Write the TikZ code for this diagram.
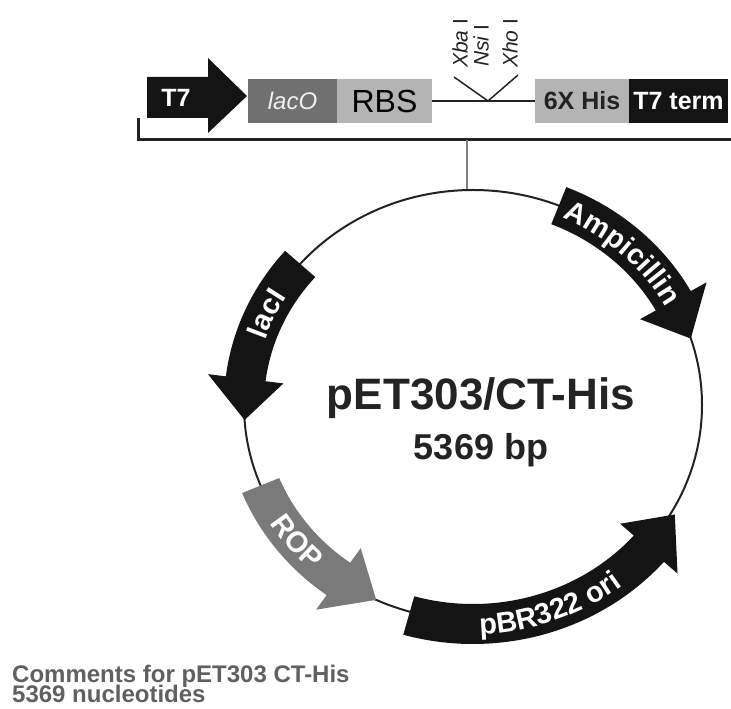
\documentclass[tikz,border=0pt]{standalone}
\usepackage{fontspec}
\setmainfont{Liberation Sans}
\usetikzlibrary{decorations.text}
\definecolor{genedark}{RGB}{20,20,20}
\definecolor{lacgray}{RGB}{112,112,112}
\definecolor{rbsgray}{RGB}{180,180,180}
\definecolor{ropgray}{RGB}{122,122,122}
\definecolor{textdark}{RGB}{35,35,35}
\newcommand{\mapcx}{473}
\newcommand{\mapcy}{304}
\newcommand{\mapra}{229}
\newcommand{\maprb}{215}
\newcommand{\genefont}{\bfseries\fontsize{29}{29}\selectfont}
\newcommand{\genearrow}[6]{%
  \fill[#6]
    ({\mapcx+(\mapra+(#5))*cos(#1)},{\mapcy+(\maprb+(#5))*sin(#1)})
    arc[start angle=#1, end angle=#2, x radius={\mapra+(#5)}, y radius={\maprb+(#5)}]
    -- ({\mapcx+(\mapra+(#5)+18)*cos(#2)},{\mapcy+(\maprb+(#5)+18)*sin(#2)})
    -- ({\mapcx+(\mapra+(#4+#5)/2)*cos(#3)},{\mapcy+(\maprb+(#4+#5)/2)*sin(#3)})
    -- ({\mapcx+(\mapra+(#4)-18)*cos(#2)},{\mapcy+(\maprb+(#4)-18)*sin(#2)})
    -- ({\mapcx+(\mapra+(#4))*cos(#2)},{\mapcy+(\maprb+(#4))*sin(#2)})
    arc[start angle=#2, end angle=#1, x radius={\mapra+(#4)}, y radius={\maprb+(#4)}]
    -- cycle;}
\newcommand{\genelabel}[5]{%
  \path[decorate, decoration={text along path, text align=center,
      text color=#4, text={|\genefont|#5}}]
    ({\mapcx+(\mapra+(#3))*cos(#1)},{\mapcy+(\maprb+(#3))*sin(#1)})
    arc[start angle=#1, end angle=#2, x radius={\mapra+(#3)}, y radius={\maprb+(#3)}];}
\tikzset{
  mapbox/.style={inner sep=0pt, minimum height=44pt, text centered},
  sitelabel/.style={inner sep=0pt, font=\fontsize{21}{21}\selectfont, text=textdark},
  siteline/.style={line width=1.5pt, textdark},
}

\begin{document}
\begin{tikzpicture}[
    x=1pt, y=1pt,
    bracket/.style={line width=3pt, textdark},
    tapline/.style={line width=2.5pt, gray}
]
\useasboundingbox (0,0) rectangle (731,709);

\fill[genedark] (147,591) -- (208,591) -- (208,576) -- (247,613)
  -- (208,651) -- (208,632) -- (147,632) -- cycle;
\node[font=\bfseries\fontsize{25}{25}\selectfont, text=white] (t7) at (176,611) {T7};

\node[mapbox, fill=lacgray, minimum width=89pt, text=gray!12,
  font=\itshape\fontsize{24}{24}\selectfont] (laco) at (292.5,608) {lacO};
\node[mapbox, fill=rbsgray, minimum width=95pt, text=black,
  font=\fontsize{32}{32}\selectfont] (rbs) at (384.5,608) {RBS};
\node[mapbox, fill=rbsgray, minimum width=94pt, text=textdark,
  font=\bfseries\fontsize{25}{25}\selectfont] (his) at (582,608) {6X His};
\node[mapbox, fill=genedark, minimum width=99pt, text=white,
  font=\bfseries\fontsize{25}{25}\selectfont] (term) at (678.5,608) {T7 term};

\draw[siteline] (rbs.east) -- (his.west);
\coordinate (cut) at (488,608);
\coordinate (armL) at (454,632);
\coordinate (armR) at (518,634);
\draw[siteline] (armL) -- (cut) -- (armR);
\node[sitelabel, rotate=90, anchor=west] (xba) at (460,641) {\textit{Xba} I};
\node[sitelabel, rotate=90, anchor=west] (nsi) at (481,642) {\textit{Nsi} I};
\node[sitelabel, rotate=90, anchor=west] (xho) at (510,641) {\textit{Xho} I};

\coordinate (brL) at (138,591);
\coordinate (brC) at (138,569);
\coordinate (brR) at (731,569);
\draw[bracket] (brL) -- (brC) -- (brR);
\coordinate (tap) at (467,569);
\coordinate (top) at (467,519);
\draw[tapline] (tap) -- (top);

\draw[line width=2pt, textdark] (\mapcx,\mapcy) ellipse[x radius=\mapra, y radius=\maprb];

\genearrow{68}{29}{18}{-20}{20}{genedark}
\genearrow{139}{173}{184}{-20}{20}{genedark}
\genearrow{202}{234}{245}{-20}{20}{ropgray}
\genearrow{254}{319}{330}{-16}{24}{genedark}

\genelabel{71}{23}{-10}{white}{Ampicillin}
\genelabel{172}{138}{-10}{white}{lacI}
\genelabel{203}{236}{10}{white}{ROP}
\genelabel{258}{322}{14}{white}{pBR322 ori}

\node[anchor=base, text=textdark, font=\bfseries\fontsize{44}{44}\selectfont] (plasmid) at (481,299) {pET303/CT-His};
\node[anchor=base, text=textdark, font=\bfseries\fontsize{36}{36}\selectfont] (length) at (481,249) {5369 bp};

\node[anchor=base west, inner sep=0pt, text=gray!75!black,
  font=\bfseries\fontsize{24}{24}\selectfont] (comment1) at (12,26) {Comments for pET303 CT-His};
\node[anchor=base west, inner sep=0pt, text=gray!75!black,
  font=\bfseries\fontsize{24}{24}\selectfont] (comment2) at (12,6) {5369 nucleotides};
\end{tikzpicture}
\end{document}
